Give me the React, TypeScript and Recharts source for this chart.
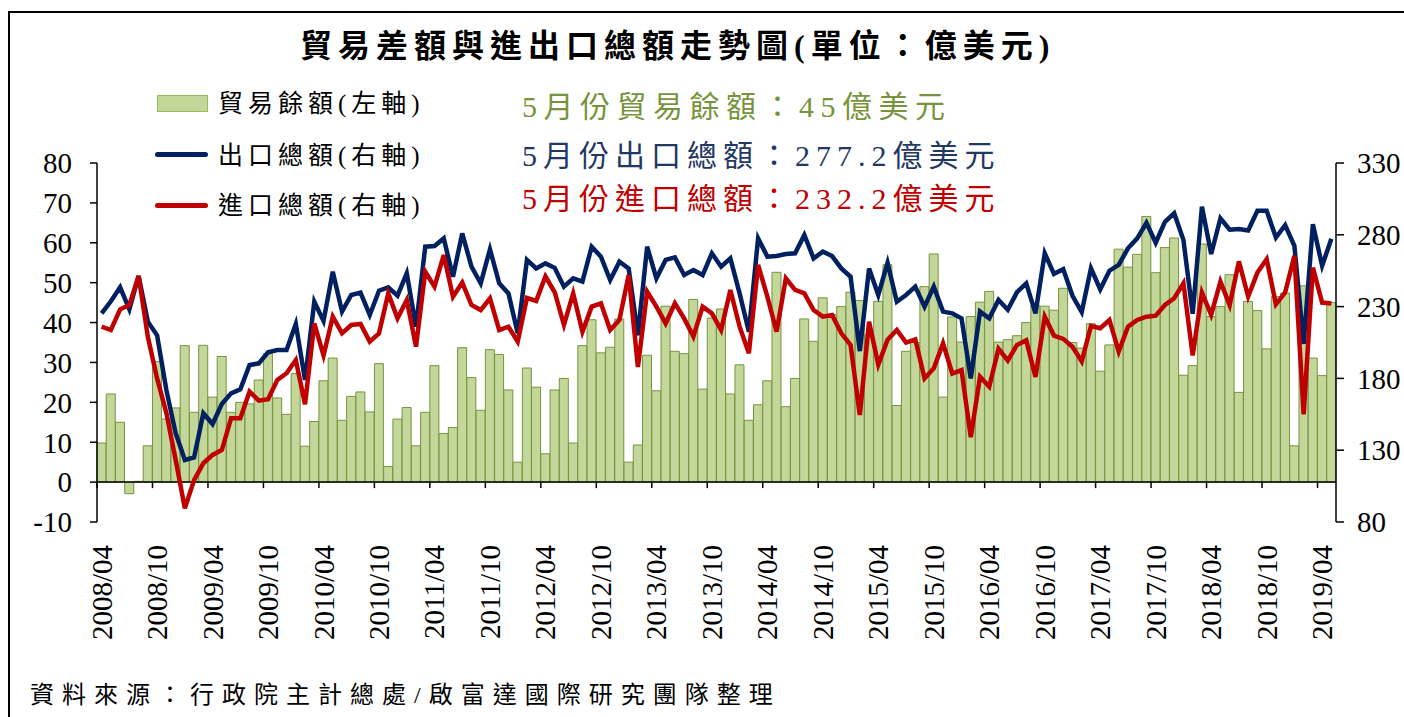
import { Bar, ComposedChart, Line, ReferenceLine, XAxis, YAxis } from "recharts";

// monthly categories 2008/04 .. 2019/05
const months: string[] = [];
for (let k = 0; k < 134; k++) {
  const m = 3 + k;
  const year = 2008 + Math.floor(m / 12);
  const mon = (m % 12) + 1;
  months.push(`${year}/${mon < 10 ? "0" + mon : mon}`);
}

// 貿易餘額 (億美元, left axis)
const surplus = [
  9.8, 22.1, 15.0, -2.9, 0.2, 9.1, 30.2, 15.8, 18.6, 34.2, 17.5, 34.3,
  21.3, 31.5, 17.5, 20.0, 19.6, 25.6, 32.2, 21.1, 17.0, 27.2, 9.0, 15.2,
  25.4, 31.1, 15.5, 21.5, 22.6, 17.6, 29.7, 3.9, 15.8, 18.7, 9.1, 17.5,
  29.2, 12.2, 13.7, 33.7, 26.2, 18.0, 33.2, 32.0, 23.1, 5.0, 28.6, 23.8,
  7.1, 23.1, 26.0, 9.8, 34.2, 40.7, 32.4, 33.8, 40.9, 5.0, 9.3, 31.8,
  22.9, 44.1, 32.8, 32.2, 45.8, 23.3, 41.1, 43.4, 22.1, 29.4, 15.5, 19.4,
  25.4, 52.6, 18.9, 26.0, 40.9, 35.3, 46.2, 42.0, 44.0, 47.6, 45.5, 37.0,
  45.3, 54.5, 19.2, 32.8, 35.0, 49.0, 57.2, 21.3, 41.4, 35.1, 41.5, 45.1,
  47.8, 35.1, 35.7, 36.7, 40.0, 44.3, 44.1, 43.1, 48.6, 35.0, 33.6, 39.7,
  27.8, 34.4, 58.4, 53.9, 57.1, 66.6, 52.5, 58.8, 61.2, 26.8, 29.2, 59.7,
  41.5, 44.0, 52.0, 22.5, 45.3, 43.0, 33.4, 46.5, 47.4, 9.1, 49.2, 31.1,
  26.7, 45.0,
];

// 出口總額 (億美元, right axis)
const exportsTotal = [
  225.3, 233.7, 243.4, 228.1, 251.3, 219.5, 210, 172, 142, 123.2, 125, 155.7,
  148.2, 162.2, 169.6, 172.4, 189.3, 190.5, 198.2, 199.8, 199.8, 217.9, 178.9, 233.4,
  220, 254.3, 226.5, 238.1, 239.7, 224.2, 241.1, 243.4, 237.6, 253.2, 216.0, 271.7,
  272.2, 277.5, 250.8, 281.0, 257.8, 246.2, 269.9, 246.2, 239.2, 211.4, 262.5, 256.6,
  260.1, 257, 243.9, 249.7, 247.4, 271.7, 264.8, 248.5, 261.3, 256.6, 210, 271.7,
  249.7, 262.5, 264.3, 252.0, 255.5, 252.0, 267.1, 257.8, 263.6, 239.2, 212.5, 277.5,
  264.8, 265.2, 266.6, 267.1, 279.9, 263.6, 268.3, 265.2, 256.6, 250.8, 199, 256.6,
  238.1, 260.5, 233.4, 238.1, 243.9, 230, 243.9, 226.5, 225.3, 221.8, 180, 226.5,
  221.8, 234.6, 227.8, 240, 246.2, 225.3, 267.1, 252.8, 256, 237.5, 226.2, 256.6,
  242, 255, 259, 270.6, 277.5, 288.4, 274.5, 289.1, 295, 276.4, 225, 299.6,
  266.6, 291.5, 283.5, 284, 283, 296.7, 296.7, 278.1, 286.7, 272.3, 204, 287.4,
  258.4, 277.2,
];

// 進口總額 (億美元, right axis)
const importsTotal = [
  216, 213.7, 228.1, 231.1, 251.3, 209, 180, 156, 123.5, 89.5, 109.2, 120.9,
  126.7, 130.1, 152.2, 152.2, 170.8, 164.5, 165.5, 178.9, 183.6, 192.8, 162, 218.3,
  196, 223, 211.4, 217.2, 217.9, 205.6, 211.4, 239.2, 221.8, 234.6, 202.1, 254.3,
  243.9, 265.9, 236.9, 246.7, 231.1, 227.6, 235.8, 213.7, 216.0, 205.6, 236, 234,
  251, 240, 217.2, 239.2, 212.5, 230, 232.3, 213.7, 220.7, 252, 188, 240.4,
  230, 218.3, 232.3, 221.8, 209.1, 230, 225.3, 213.7, 241.6, 216, 197.5, 259,
  236.9, 212.5, 249.7, 241.6, 239.2, 227.6, 223, 224.2, 211.4, 203.3, 154.5, 219.5,
  189.5, 207, 213.7, 204.9, 207.2, 180.0, 187, 204.4, 183.4, 185.8, 139, 181.2,
  174.2, 200.6, 192.5, 203.3, 206.5, 181, 223, 209.8, 207.5, 202, 191.8, 216.5,
  214.9, 220.7, 198.6, 216, 220.7, 223, 223.7, 231.1, 235.8, 246.2, 196, 239.7,
  224.2, 247.4, 231, 261.5, 237, 253.7, 263, 231.6, 239.8, 265.3, 155, 257.2,
  232.8, 232.2,
];

const leftTicks = [-10, 0, 10, 20, 30, 40, 50, 60, 70, 80];
const rightTicks = [80, 130, 180, 230, 280, 330];

const data = months.map((month, i) => ({
  month,
  surplus: surplus[i],
  exports: exportsTotal[i],
  imports: importsTotal[i],
}));

const W = 1404;
const H = 717;
const PLOT_LEFT = 97;
const PLOT_RIGHT = 1336;
const PLOT_TOP = 163;
const PLOT_BOTTOM = 522;
const LEFT_W = 90;
const RIGHT_W = 60;
const X_H = 150;

const serif = "'Liberation Serif', 'Times New Roman', 'Noto Sans CJK TC', serif";

const NAVY = "#002060";
const RED = "#C00000";
const GREEN_TXT = "#77933C";

function MonthTick(props: any) {
  const { x, payload } = props;
  const band = (PLOT_RIGHT - PLOT_LEFT) / months.length;
  const zeroY = PLOT_TOP + ((PLOT_BOTTOM - PLOT_TOP) * 80) / 90;
  const top = PLOT_BOTTOM + 23;
  return (
    <g>
      <line
        x1={x - band / 2}
        x2={x - band / 2}
        y1={zeroY}
        y2={zeroY + 6}
        stroke="#000"
        strokeWidth={1.5}
      />
      <text
        x={x}
        y={top}
        transform={`rotate(-90, ${x}, ${top})`}
        textAnchor="end"
        dominantBaseline="central"
        fontFamily={serif}
        fontSize={29}
        fill="#000"
      >
        {payload.value}
      </text>
    </g>
  );
}

const abs = (left: number, centerY: number, size: number): React.CSSProperties => ({
  position: "absolute",
  left,
  top: centerY - size / 2,
  fontSize: size,
  lineHeight: `${size}px`,
  whiteSpace: "nowrap",
  fontFamily: serif,
});

export default function App() {
  return (
    <div
      style={{
        position: "absolute",
        left: 0,
        top: 0,
        width: W,
        height: H,
        background: "#fff",
        overflow: "hidden",
      }}
    >
      <ComposedChart
        width={W}
        height={H}
        data={data}
        margin={{
          top: PLOT_TOP,
          left: PLOT_LEFT - LEFT_W,
          right: W - PLOT_RIGHT - RIGHT_W,
          bottom: H - PLOT_BOTTOM - X_H,
        }}
        barCategoryGap={0}
        barGap={0}
      >
        <XAxis
          dataKey="month"
          height={X_H}
          interval={5}
          axisLine={false}
          tickLine={false}
          tick={<MonthTick />}
        />
        <YAxis
          yAxisId="left"
          orientation="left"
          width={LEFT_W}
          domain={[-10, 80]}
          ticks={leftTicks}
          interval={0}
          allowDataOverflow
          tickSize={7}
          tickMargin={18}
          axisLine={{ stroke: "#000", strokeWidth: 1.5 }}
          tickLine={{ stroke: "#000", strokeWidth: 1.5 }}
          tick={{ fill: "#000", fontSize: 29, fontFamily: serif }}
        />
        <YAxis
          yAxisId="right"
          orientation="right"
          width={RIGHT_W}
          domain={[80, 330]}
          ticks={rightTicks}
          interval={0}
          allowDataOverflow
          tickSize={8}
          tickMargin={13}
          axisLine={{ stroke: "#000", strokeWidth: 1.5 }}
          tickLine={{ stroke: "#000", strokeWidth: 1.5 }}
          tick={{ fill: "#000", fontSize: 29, fontFamily: serif }}
        />
        <Bar
          yAxisId="left"
          dataKey="surplus"
          fill="#C4D79B"
          stroke="#77933C"
          strokeWidth={1}
          isAnimationActive={false}
        />
        <ReferenceLine yAxisId="left" y={0} stroke="#000" strokeWidth={1.5} />
        <Line
          yAxisId="right"
          type="linear"
          dataKey="exports"
          stroke={NAVY}
          strokeWidth={4.5}
          dot={false}
          isAnimationActive={false}
        />
        <Line
          yAxisId="right"
          type="linear"
          dataKey="imports"
          stroke={RED}
          strokeWidth={4.5}
          dot={false}
          isAnimationActive={false}
        />
      </ComposedChart>

      {/* frame */}
      <div
        style={{
          position: "absolute",
          left: 8,
          top: 11,
          width: 1500,
          height: 800,
          border: "2px solid #000",
          pointerEvents: "none",
        }}
      />

      {/* title */}
      <div style={{ ...abs(300, 46, 32), fontWeight: 700, letterSpacing: 6 }}>
        貿易差額與進出口總額走勢圖(單位：億美元)
      </div>

      {/* legend */}
      <div
        style={{
          position: "absolute",
          left: 157,
          top: 95,
          width: 49,
          height: 15,
          background: "#C4D79B",
          border: "1px solid #9BBB59",
        }}
      />
      <div style={{ ...abs(218, 103, 25), letterSpacing: 5 }}>貿易餘額(左軸)</div>
      <div
        style={{
          position: "absolute",
          left: 155,
          top: 152,
          width: 53,
          height: 5,
          borderRadius: 3,
          background: NAVY,
        }}
      />
      <div style={{ ...abs(218, 155, 25), letterSpacing: 5 }}>出口總額(右軸)</div>
      <div
        style={{
          position: "absolute",
          left: 155,
          top: 203,
          width: 53,
          height: 5,
          borderRadius: 3,
          background: RED,
        }}
      />
      <div style={{ ...abs(218, 205, 25), letterSpacing: 5 }}>進口總額(右軸)</div>

      {/* May figures */}
      <div style={{ ...abs(522, 107, 30), letterSpacing: 6.5, color: GREEN_TXT }}>
        5月份貿易餘額：45億美元
      </div>
      <div style={{ ...abs(522, 156, 30), letterSpacing: 6, color: "#1F3864" }}>
        5月份出口總額：277.2億美元
      </div>
      <div style={{ ...abs(522, 199, 30), letterSpacing: 6, color: RED }}>
        5月份進口總額：232.2億美元
      </div>

      {/* source */}
      <div style={{ ...abs(30, 695, 24), letterSpacing: 8 }}>
        資料來源：行政院主計總處/啟富達國際研究團隊整理
      </div>
    </div>
  );
}
